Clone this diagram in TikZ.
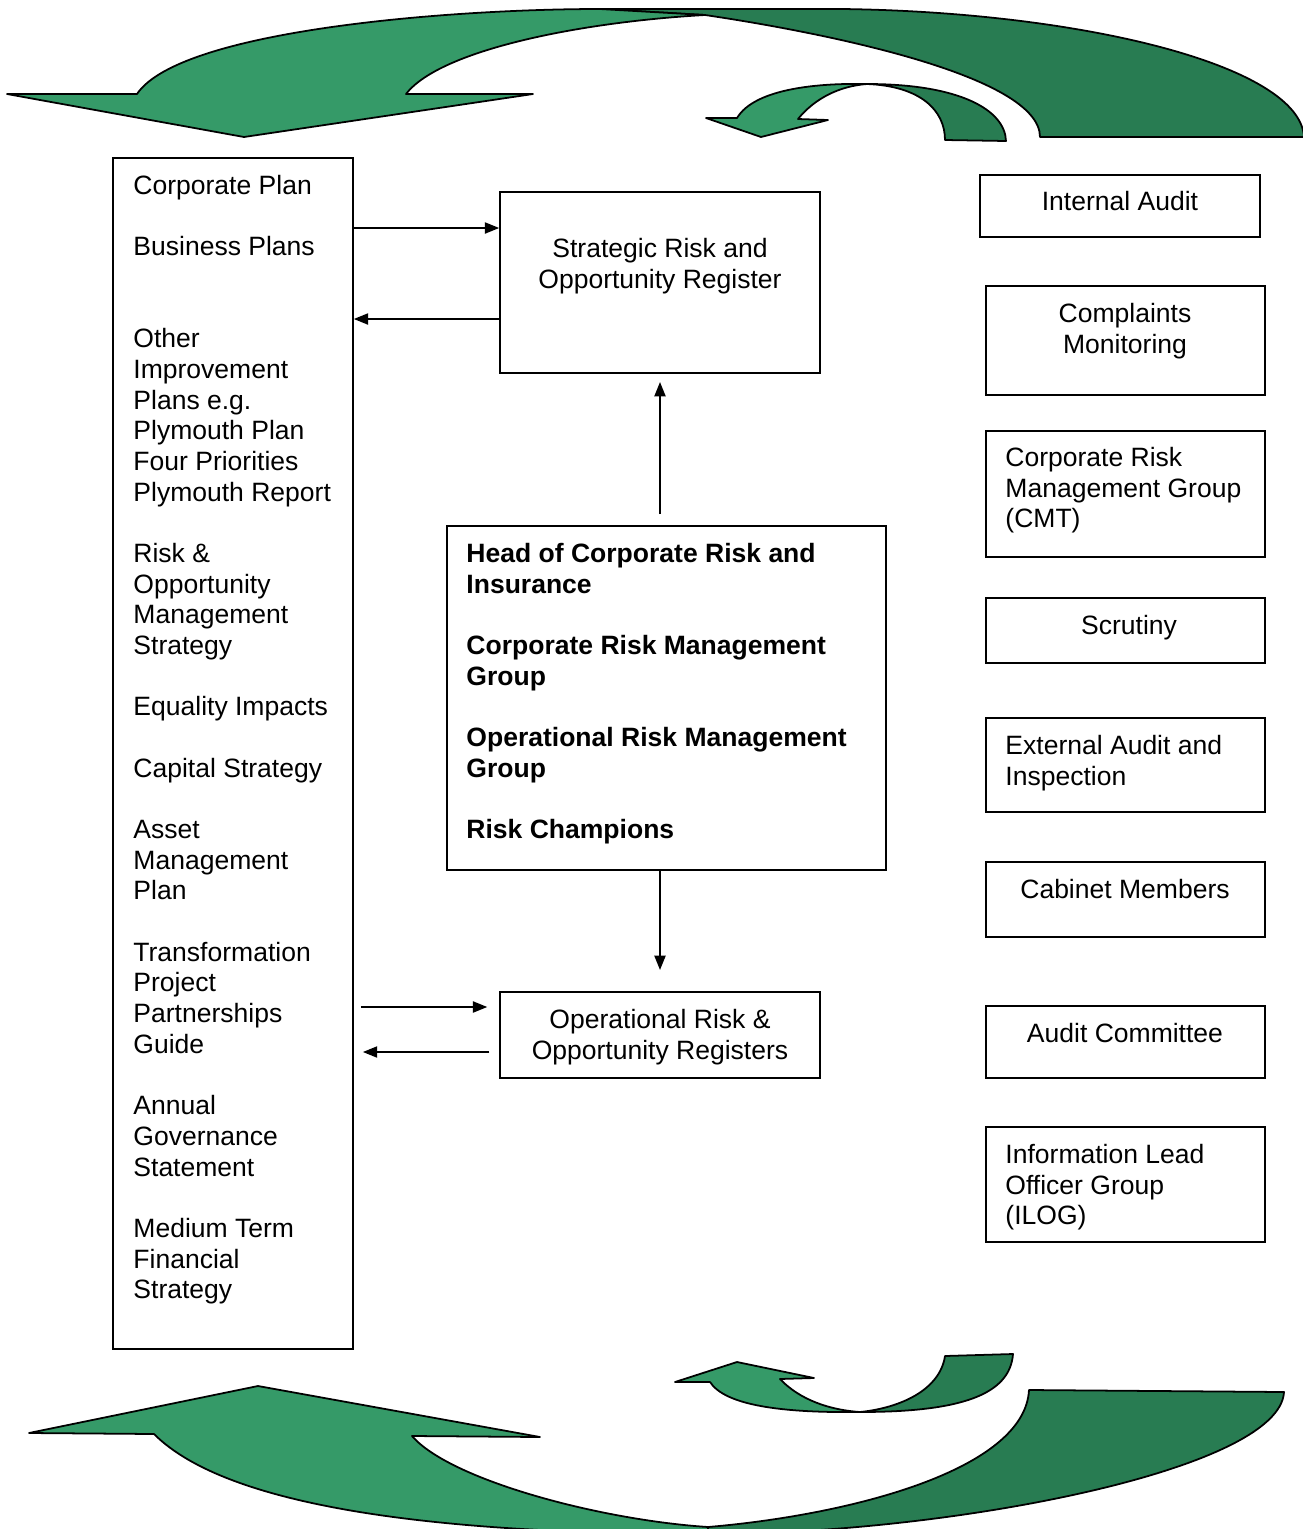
\documentclass[tikz,border=0pt]{standalone}
\usepackage{fontspec}
\setmainfont{Liberation Sans}
\usepackage{tikz}
\usetikzlibrary{arrows.meta}
\usetikzlibrary{fit}

\definecolor{ribbonLight}{RGB}{53,154,104}
\definecolor{ribbonDark}{RGB}{40,124,82}

\begin{document}
\begin{tikzpicture}[x=0.4525pt, y=-0.4525pt, >={Triangle[length=6.5pt,width=5pt]},
        box/.style={draw, line width=0.7pt, inner sep=0pt},
        txt/.style={inner sep=0pt, font=\fontsize{12}{13.88}\selectfont},
        arr/.style={->, line width=0.9pt},
        ribbon/.style={draw=black, line width=0.8pt, line join=round}]
        \def\gap{\\[13.88pt]}

        \useasboundingbox (0,0) rectangle (1303,1529);

        % turning arrows, top and bottom
        \begin{scope}
            \clip (0,0) rectangle (1303,1529);
            \filldraw[ribbon, fill=ribbonDark] (600,9) -- (842,9) .. controls (1080,12) and (1300,65) .. (1304,137) -- (1040,137) .. controls (1040,75) and (820,32) .. (705,15) -- cycle;
            \filldraw[ribbon, fill=ribbonLight] (137,94) -- (7,94) -- (244,137) -- (533,94) -- (406,94) .. controls (440,50) and (580,22) .. (705,15) -- (600,9) .. controls (450,9) and (180,30) .. (137,94) -- cycle;

            \filldraw[ribbon, fill=ribbonDark] (867,84) .. controls (960,84) and (1005,110) .. (1006,141) -- (945,140) .. controls (945,110) and (920,86) .. (867,84) -- cycle;
            \filldraw[ribbon, fill=ribbonLight] (737,118) -- (706,118) -- (761,137) -- (828,120) -- (798,119) .. controls (815,98) and (840,86) .. (867,84) .. controls (820,83) and (755,88) .. (737,118) -- cycle;

            \filldraw[ribbon, fill=ribbonDark] (1029,1390) .. controls (1025,1470) and (850,1515) .. (708,1527) -- (708,1534) .. controls (950,1534) and (1280,1470) .. (1284,1392) -- cycle;
            \filldraw[ribbon, fill=ribbonLight] (412,1436) -- (540,1437) -- (258,1386) -- (29,1433) -- (154,1434) .. controls (230,1510) and (450,1534) .. (708,1534) -- (708,1527) .. controls (600,1520) and (450,1480) .. (412,1436) -- cycle;

            \filldraw[ribbon, fill=ribbonDark] (945,1356) -- (1013,1354) .. controls (1010,1395) and (960,1412) .. (860,1412) .. controls (900,1408) and (940,1390) .. (945,1356) -- cycle;
            \filldraw[ribbon, fill=ribbonLight] (780,1379) -- (814,1378) -- (737,1362) -- (675,1382) -- (710,1382) .. controls (725,1405) and (780,1413) .. (860,1412) .. controls (830,1410) and (800,1400) .. (780,1379) -- cycle;
        \end{scope}

        % boxes
        \node[box, fit={(113,158) (353,1349)}] (plans) {};
        \node[box, fit={(500,192) (820,373)}] (strat) {};
        \node[box, fit={(447,526) (886,870)}] (head) {};
        \node[box, fit={(500,992) (820,1078)}] (opreg) {};

        \node[box, fit={(980,175) (1260,237)}] (intaudit) {};
        \node[box, fit={(986,286) (1265,395)}] (complaints) {};
        \node[box, fit={(986,431) (1265,557)}] (crmg) {};
        \node[box, fit={(986,598) (1265,663)}] (scrutiny) {};
        \node[box, fit={(986,718) (1265,812)}] (extaudit) {};
        \node[box, fit={(986,862) (1265,937)}] (cabinet) {};
        \node[box, fit={(986,1006) (1265,1078)}] (auditcom) {};
        \node[box, fit={(986,1127) (1265,1242)}] (ilog) {};

        % texts
        \node[txt, anchor=north west, align=left] (plansTxt) at (133,172.5) {\strut Corporate Plan\gap
            Business Plans\\[27.76pt]
            Other\\ Improvement\\ Plans e.g.\\ Plymouth Plan\\ Four Priorities\\ Plymouth Report\gap
            Risk \&\\ Opportunity\\ Management\\ Strategy\gap
            Equality Impacts\gap
            Capital Strategy\gap
            Asset\\ Management\\ Plan\gap
            Transformation\\ Project\\ Partnerships\\ Guide\gap
            Annual\\ Governance\\ Statement\gap
            Medium Term\\ Financial\\ Strategy};
        \node[txt, anchor=north, align=center] (stratTxt) at (660,236) {\strut Strategic Risk and\\ Opportunity Register};
        \node[txt, anchor=north west, align=left, font=\fontsize{12}{13.88}\selectfont\bfseries] (headTxt) at (466,540.5) {\strut Head of Corporate Risk and\\ Insurance\gap
            Corporate Risk Management\\ Group\gap
            Operational Risk Management\\ Group\gap
            Risk Champions};
        \node[txt, anchor=north, align=center] (opregTxt) at (660,1006.5) {\strut Operational Risk \&\\ Opportunity Registers};

        \node[txt, anchor=north] (intauditTxt) at (1120,189) {\strut Internal Audit};
        \node[txt, anchor=north, align=center] (complaintsTxt) at (1125,300.5) {\strut Complaints\\ Monitoring};
        \node[txt, anchor=north west, align=left] (crmgTxt) at (1005,444.5) {\strut Corporate Risk\\ Management Group\\ (CMT)};
        \node[txt, anchor=north] (scrutinyTxt) at (1129,612.5) {\strut Scrutiny};
        \node[txt, anchor=north west, align=left] (extauditTxt) at (1005,732.5) {\strut External Audit and\\ Inspection};
        \node[txt, anchor=north] (cabinetTxt) at (1125,876.5) {\strut Cabinet Members};
        \node[txt, anchor=north] (auditcomTxt) at (1125,1020.5) {\strut Audit Committee};
        \node[txt, anchor=north west, align=left] (ilogTxt) at (1005,1141.5) {\strut Information Lead\\ Officer Group\\ (ILOG)};

        % connectors
        \draw[arr] (plans.east |- 0,228) -- (strat.west |- 0,228);
        \draw[arr] (strat.west |- 0,319) -- (plans.east |- 0,319);
        \draw[arr, shorten <=5pt] (head.north -| strat.south) -- (strat.south |- 0,382);
        \draw[arr] (head.south -| opreg.north) -- (opreg.north |- 0,970);
        \draw[arr, shorten <=3.2pt, shorten >=5.4pt] (plans.east |- 0,1007) -- (opreg.west |- 0,1007);
        \draw[arr, shorten <=4.5pt, shorten >=4.1pt] (opreg.west |- 0,1052) -- (plans.east |- 0,1052);
\end{tikzpicture}
\end{document}
